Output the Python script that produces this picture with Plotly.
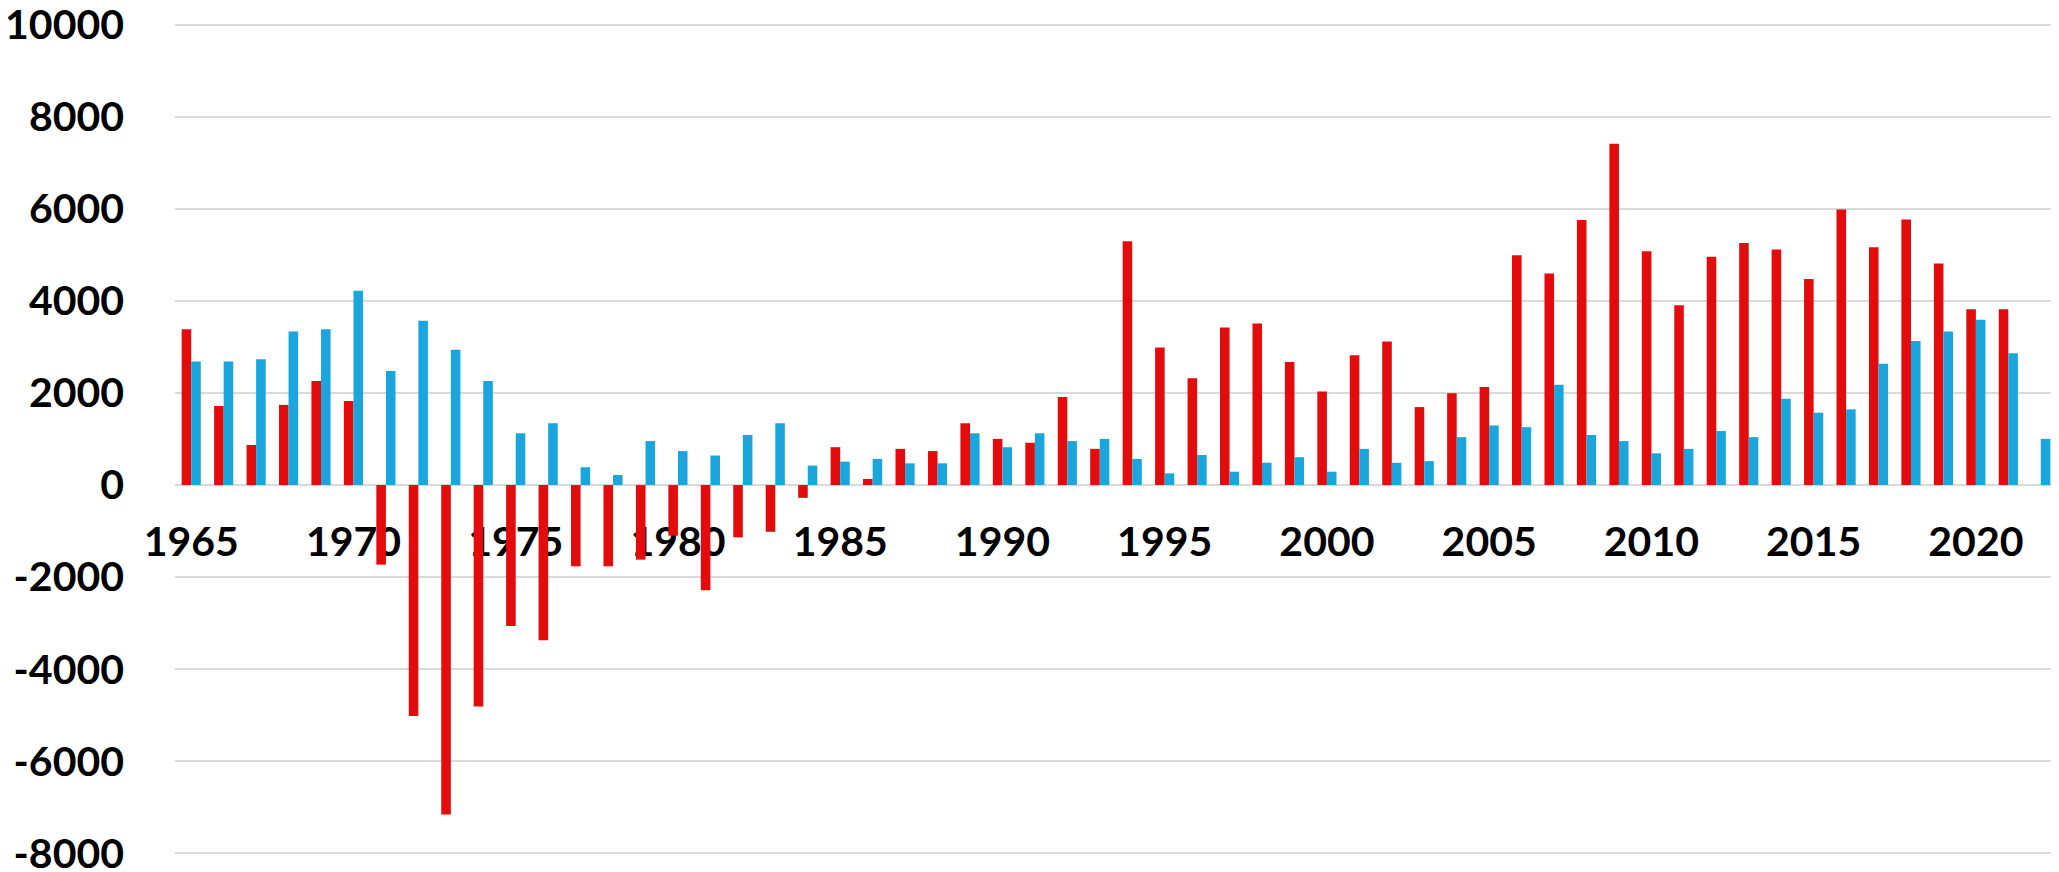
import plotly.graph_objects as go

years = list(range(1965, 2023))
red_values = [3385, 1717, 870, 1741, 2261, 1826, -1729, -5017, -7157, -4812,
              -3059, -3373, -1765, -1765, -1620, -1100, -2285, -1136, -1016, -278,
              822, 133, 786, 737, 1342, 1003, 919, 1910, 786, 5295,
              2986, 2321, 3421, 3506, 2672, 2031, 2817, 3119, 1693, 1995,
              2128, 4993, 4594, 5755, 7411, 5078, 3905, 4957, 5259, 5114,
              4473, 5985, 5162, 5767, 4812, 3820, 3820, None]
blue_values = [2684, 2684, 2732, 3337, 3385, 4219, 2478, 3567, 2938, 2261,
               1124, 1342, 387, 218, 955, 737, 641, 1088, 1342, 423,
               508, 568, 472, 472, 1124, 822, 1124, 955, 1003, 568,
               254, 653, 290, 484, 605, 290, 786, 484, 520, 1040,
               1294, 1257, 2176, 1088, 955, 689, 786, 1173, 1040, 1874,
               1572, 1644, 2636, 3131, 3337, 3591, 2865, 1003]
x_tick_years = [1965, 1970, 1975, 1980, 1985, 1990, 1995, 2000, 2005, 2010, 2015, 2020]
y_tick_values = [-8000, -6000, -4000, -2000, 0, 2000, 4000, 6000, 8000, 10000]
y_tick_labels = ["-8000", "-6000", "-4000", "-2000", "0", "2000", "4000", "6000", "8000", "10000"]

RED = "#E30B0B"
BLUE = "#1AA6DD"
FONT = dict(family="Lato, 'Liberation Sans', sans-serif", size=41, color="black", weight="bold")

Y_MIN, Y_MAX = -8100, 10100

fig = go.Figure()
fig.add_trace(go.Bar(x=years, y=red_values, marker=dict(color=RED, line=dict(width=0)), name="red"))
fig.add_trace(go.Bar(x=years, y=blue_values, marker=dict(color=BLUE, line=dict(width=0)), name="blue"))

# the page body has an 8px default margin, so the figure is sized to fill the rest of the window
fig.update_layout(
    width=2051, height=864,
    margin=dict(l=167, r=2, t=12, b=14, pad=0, autoexpand=False),
    paper_bgcolor="white", plot_bgcolor="white",
    barmode="group", bargap=0.41, bargroupgap=0,
    showlegend=False,
    font=FONT,
    xaxis=dict(
        range=[1964.5, 2022.5],
        tickvals=x_tick_years,
        ticktext=[str(v) for v in x_tick_years],
        tickfont=FONT,
        showgrid=False, zeroline=False, showline=False, ticks="",
        anchor="free",
        position=(0 - Y_MIN) / (Y_MAX - Y_MIN),
        layer="below traces",
        ticklabelstandoff=29,
        automargin=False,
        ticklabeloverflow="allow",
    ),
    yaxis=dict(
        range=[Y_MIN, Y_MAX],
        tickvals=y_tick_values,
        ticktext=y_tick_labels,
        tickfont=FONT,
        showgrid=True, gridcolor="#D9D9D9", gridwidth=1.5,
        zeroline=True, zerolinecolor="#D9D9D9", zerolinewidth=1.5,
        showline=False, ticks="",
        ticklabelstandoff=50,
        automargin=False,
        ticklabeloverflow="allow",
    ),
)

fig.write_html("out.html")
